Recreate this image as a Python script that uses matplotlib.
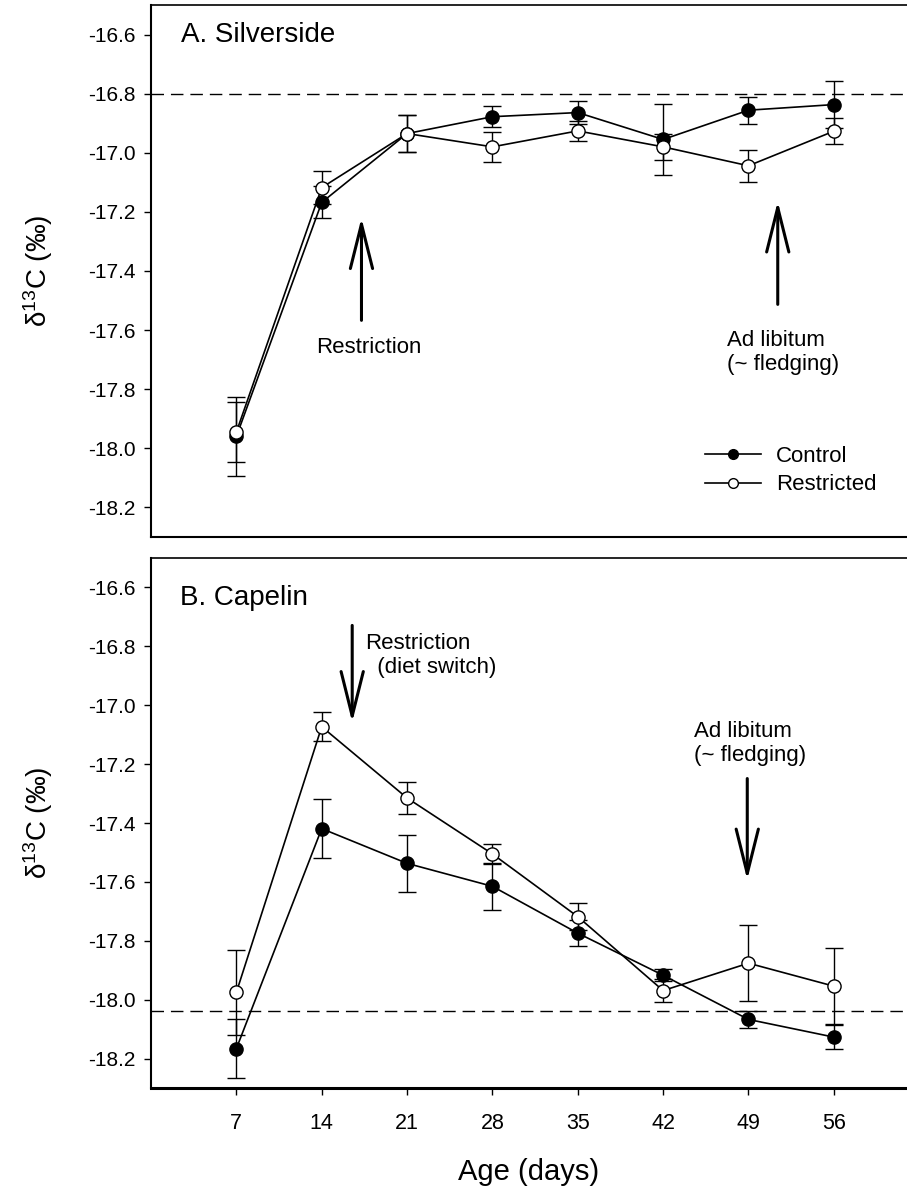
import matplotlib
matplotlib.use("Agg")
import matplotlib.pyplot as plt
from matplotlib.lines import Line2D

plt.rcParams["font.family"] = ["Liberation Sans", "DejaVu Sans"]
plt.rcParams["mathtext.fontset"] = "custom"
plt.rcParams["mathtext.rm"] = "Liberation Sans"
plt.rcParams["mathtext.default"] = "regular"

# values (delta 13C, per mil), mean and error bar half-length
days = [7, 14, 21, 28, 35, 42, 49, 56]

silv_control = [-17.96, -17.168, -16.935, -16.878, -16.864, -16.955, -16.856, -16.837]
silv_control_err = [0.135, 0.054, 0.063, 0.036, 0.04, 0.12, 0.045, 0.08]
silv_restricted = [-17.945, -17.118, -16.935, -16.98, -16.926, -16.98, -17.044, -16.927]
silv_restricted_err = [0.1, 0.056, 0.063, 0.05, 0.035, 0.045, 0.055, 0.044]
silv_baseline = -16.8

cap_control = [-18.166, -17.419, -17.537, -17.615, -17.774, -17.917, -18.067, -18.127]
cap_control_err = [0.1, 0.1, 0.097, 0.08, 0.045, 0.02, 0.03, 0.04]
cap_restricted = [-17.975, -17.073, -17.315, -17.505, -17.718, -17.969, -17.876, -17.954]
cap_restricted_err = [0.145, 0.05, 0.053, 0.035, 0.045, 0.04, 0.13, 0.13]
cap_baseline = -18.04

yticks = [-16.6, -16.8, -17.0, -17.2, -17.4, -17.6, -17.8, -18.0, -18.2]
ytick_labels = ["-16.6", "-16.8", "-17.0", "-17.2", "-17.4", "-17.6", "-17.8", "-18.0", "-18.2"]
xtick_labels = ["7", "14", "21", "28", "35", "42", "49", "56"]

fig = plt.figure(figsize=(9.07, 11.89), dpi=100)
ax_a = fig.add_axes([0.1665, 0.5484, 0.8335, 0.4474])
ax_b = fig.add_axes([0.1665, 0.0849, 0.8335, 0.4458])


def draw_panel(ax, control, control_err, restricted, restricted_err, baseline):
    ax.axhline(baseline, color="black", lw=1.0, dashes=(9, 5), zorder=1)
    common = dict(color="black", lw=1.2, elinewidth=1.0, capsize=6.5, capthick=1.0,
                  marker="o", ms=9.5, mec="black", mew=1.0)
    ax.errorbar(days, control, yerr=control_err, mfc="black", zorder=3, **common)
    ax.errorbar(days, restricted, yerr=restricted_err, mfc="white", zorder=4, **common)
    ax.set_xlim(0, 62)
    ax.set_ylim(-18.3, -16.5)
    ax.set_yticks(yticks)
    ax.set_yticklabels(ytick_labels)
    ax.spines["right"].set_visible(False)
    ax.spines["left"].set_linewidth(1.5)
    ax.spines["top"].set_linewidth(1.2)
    ax.tick_params(axis="y", direction="out", length=5, width=1, labelsize=15, pad=6)
    ax.set_ylabel("δ$^{13}$C (‰)", fontsize=20)
    ax.yaxis.set_label_coords(-0.15, 0.5)
    ax.yaxis.label.set_verticalalignment("center")


def arrow(ax, x, y_from, y_to):
    ax.annotate("", xy=(x, y_to), xytext=(x, y_from),
                arrowprops=dict(arrowstyle="->,head_length=1.6,head_width=0.4",
                                lw=2.2, color="black", shrinkA=0, shrinkB=0,
                                mutation_scale=20))


# A. Silverside
draw_panel(ax_a, silv_control, silv_control_err, silv_restricted, silv_restricted_err,
           silv_baseline)
ax_a.set_xticks([])
ax_a.spines["bottom"].set_linewidth(1.5)
ax_a.text(2.5, -16.6, "A. Silverside", fontsize=20, ha="left", va="center")
arrow(ax_a, 17.26, -17.567, -17.22)
arrow(ax_a, 51.4, -17.513, -17.164)
ax_a.text(17.9, -17.658, "Restriction", fontsize=16, ha="center", va="center")
ax_a.text(47.25, -17.675, "Ad libitum\n(~ fledging)", fontsize=16, ha="left", va="center")

handles = [
    Line2D([], [], color="black", lw=1.2, marker="o", ms=7, mfc="black", mec="black"),
    Line2D([], [], color="black", lw=1.2, marker="o", ms=7, mfc="white", mec="black"),
]
ax_a.legend(handles, ["Control", "Restricted"], loc="center left",
            bbox_to_anchor=(0.733, 0.125), frameon=False, fontsize=16,
            handlelength=2.5, handletextpad=0.7, labelspacing=0.35,
            borderpad=0, borderaxespad=0)

# B. Capelin
draw_panel(ax_b, cap_control, cap_control_err, cap_restricted, cap_restricted_err,
           cap_baseline)
ax_b.set_xticks(days)
ax_b.set_xticklabels(xtick_labels)
ax_b.spines["bottom"].set_linewidth(2.2)
ax_b.tick_params(axis="x", direction="out", length=5, width=1, labelsize=15.5, pad=13)
ax_b.set_xlabel("Age (days)", fontsize=21)
ax_b.xaxis.set_label_coords(0.5, -0.132)
ax_b.text(2.4, -16.637, "B. Capelin", fontsize=20, ha="left", va="center")
arrow(ax_b, 16.5, -16.729, -17.058)
arrow(ax_b, 48.9, -17.249, -17.593)
ax_b.text(17.55, -16.831, "Restriction\n  (diet switch)", fontsize=16, ha="left", va="center")
ax_b.text(44.55, -17.13, "Ad libitum\n(~ fledging)", fontsize=16, ha="left", va="center")

fig.savefig("out.png", dpi=100)
